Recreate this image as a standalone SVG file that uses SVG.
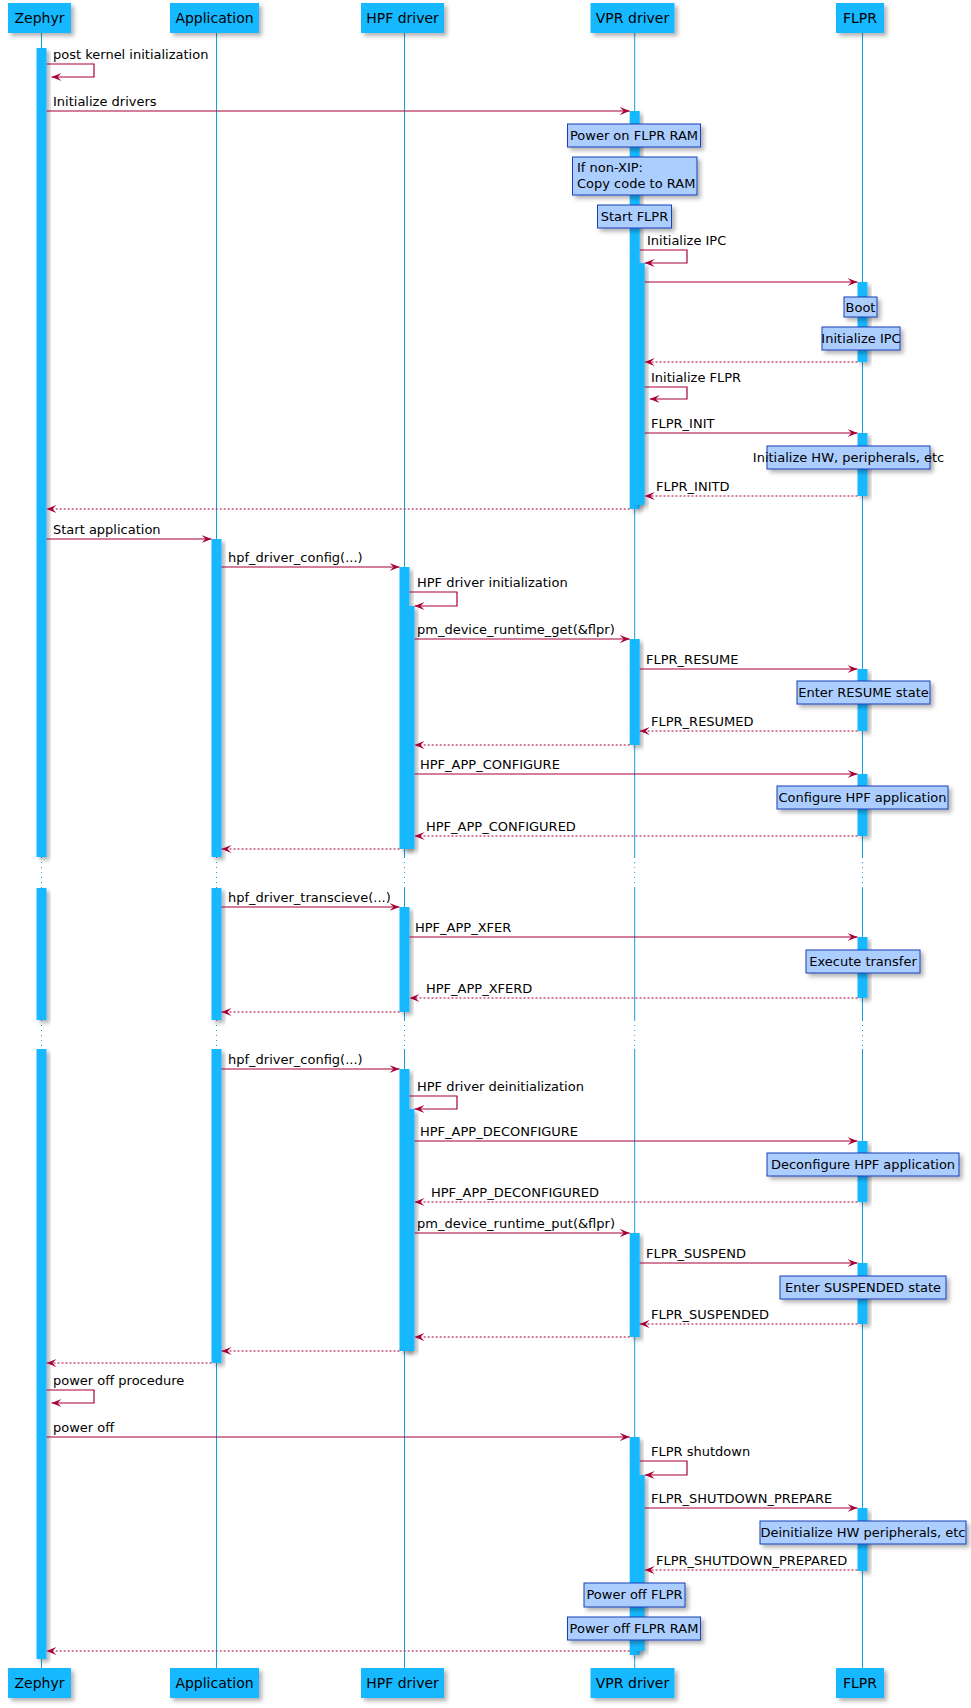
<svg xmlns="http://www.w3.org/2000/svg" width="971" height="1708" viewBox="0 0 971 1708">
<style>
text{font-family:"DejaVu Sans","Liberation Sans",sans-serif;font-size:13px;fill:#000}
.h text,text.h{font-size:14px;text-anchor:middle}
.p{fill:#14B8FF;filter:url(#sh)}
.ll{stroke:#14A0E0;stroke-width:1}
.ld{stroke:#14A0E0;stroke-width:1;stroke-dasharray:1,4}
.act{fill:#14B8FF;filter:url(#sh)}
.m{stroke:#A80036;stroke-width:1.2;fill:none;marker-end:url(#a)}
.r{stroke:#A80036;stroke-width:1.2;fill:none;stroke-dasharray:2,2;marker-end:url(#a)}
.n rect{fill:#ABCEFF;stroke:#1A3FB8;stroke-width:1;filter:url(#sh)}
.n text{text-anchor:middle}
</style>
<defs>
<filter id="sh" x="-20%" y="-20%" width="160%" height="160%"><feDropShadow dx="3" dy="3" stdDeviation="2" flood-color="#000" flood-opacity="0.3"/></filter>
<marker id="a" markerWidth="12" markerHeight="10" refX="10" refY="5" orient="auto" markerUnits="userSpaceOnUse"><path d="M0,1 L10,5 L0,9 L4,5 Z" fill="#A80036"/></marker>
</defs>
<g id="lifelines">
<path class="ll" d="M41.5,33V857M41.5,888V1020M41.5,1049V1668M216.5,33V857M216.5,888V1020M216.5,1049V1668M404.5,33V857M404.5,888V1020M404.5,1049V1668M634.7,33V857M634.7,888V1020M634.7,1049V1668M862.5,33V857M862.5,888V1020M862.5,1049V1668"/>
<path class="ld" d="M41.5,857V888M41.5,1020V1049M216.5,857V888M216.5,1020V1049M404.5,857V888M404.5,1020V1049M634.7,857V888M634.7,1020V1049M862.5,857V888M862.5,1020V1049"/>
</g>
<g id="participants" class="h">
<g id="zephyr"><rect class="p" x="8" y="3" width="63" height="30"/><text x="39.5" y="23">Zephyr</text><rect class="p" x="8" y="1668" width="63" height="30"/><text x="39.5" y="1688">Zephyr</text></g>
<g id="application"><rect class="p" x="170" y="3" width="89" height="30"/><text x="214.5" y="23">Application</text><rect class="p" x="170" y="1668" width="89" height="30"/><text x="214.5" y="1688">Application</text></g>
<g id="hpf"><rect class="p" x="361" y="3" width="83" height="30"/><text x="402.5" y="23">HPF driver</text><rect class="p" x="361" y="1668" width="83" height="30"/><text x="402.5" y="1688">HPF driver</text></g>
<g id="vpr"><rect class="p" x="590.5" y="3" width="84" height="30"/><text x="632.5" y="23">VPR driver</text><rect class="p" x="590.5" y="1668" width="84" height="30"/><text x="632.5" y="1688">VPR driver</text></g>
<g id="flpr"><rect class="p" x="836" y="3" width="48" height="30"/><text x="860" y="23">FLPR</text><rect class="p" x="836" y="1668" width="48" height="30"/><text x="860" y="1688">FLPR</text></g>
</g>
<g id="activations">
<rect class="act" x="36.5" y="48" width="10" height="809"/>
<rect class="act" x="36.5" y="888" width="10" height="132"/>
<rect class="act" x="36.5" y="1049" width="10" height="610"/>
<rect class="act" x="211.5" y="539" width="10" height="318"/>
<rect class="act" x="211.5" y="888" width="10" height="132"/>
<rect class="act" x="211.5" y="1049" width="10" height="314"/>
<rect class="act" x="399.5" y="567" width="10" height="282"/>
<rect class="act" x="404.5" y="606" width="10" height="243"/>
<rect class="act" x="399.5" y="907" width="10" height="105"/>
<rect class="act" x="399.5" y="1069" width="10" height="282"/>
<rect class="act" x="404.5" y="1109" width="10" height="242"/>
<rect class="act" x="629.7" y="111" width="10" height="398"/>
<rect class="act" x="634.7" y="263" width="10" height="242"/>
<rect class="act" x="629.7" y="639" width="10" height="106"/>
<rect class="act" x="629.7" y="1233" width="10" height="104"/>
<rect class="act" x="629.7" y="1437" width="10" height="218"/>
<rect class="act" x="634.7" y="1475" width="10" height="176"/>
<rect class="act" x="857.5" y="282" width="10" height="80"/>
<rect class="act" x="857.5" y="433" width="10" height="63"/>
<rect class="act" x="857.5" y="669" width="10" height="62"/>
<rect class="act" x="857.5" y="774" width="10" height="62"/>
<rect class="act" x="857.5" y="937" width="10" height="61"/>
<rect class="act" x="857.5" y="1141" width="10" height="61"/>
<rect class="act" x="857.5" y="1263" width="10" height="61"/>
<rect class="act" x="857.5" y="1508" width="10" height="63"/>
</g>
<g id="connectors">
<path class="m" d="M46.5,64H94V77H51.5"/><text x="53" y="59">post kernel initialization</text>
<path class="m" d="M46.5,111H629.7"/><text x="53" y="106">Initialize drivers</text>
<path class="m" d="M639.7,250H687V263H644.7"/><text x="647" y="245">Initialize IPC</text>
<path class="m" d="M644.7,282H857.5"/>
<path class="r" d="M857.5,362H644.7"/>
<path class="m" d="M644.7,387H687V399H649.7"/><text x="651" y="382">Initialize FLPR</text>
<path class="m" d="M644.7,433H857.5"/><text x="651" y="428">FLPR_INIT</text>
<path class="r" d="M857.5,496H644.7"/><text x="656" y="491">FLPR_INITD</text>
<path class="r" d="M629.7,509H46.5"/>
<path class="m" d="M46.5,539H211.5"/><text x="53" y="534">Start application</text>
<path class="m" d="M221.5,567H399.5"/><text x="228" y="562">hpf_driver_config(...)</text>
<path class="m" d="M409.5,592H457V606H414.5"/><text x="417" y="587">HPF driver initialization</text>
<path class="m" d="M414.5,639H629.7"/><text x="417" y="634">pm_device_runtime_get(&amp;flpr)</text>
<path class="m" d="M639.7,669H857.5"/><text x="646" y="664">FLPR_RESUME</text>
<path class="r" d="M857.5,731H639.7"/><text x="651" y="726">FLPR_RESUMED</text>
<path class="r" d="M629.7,745H414.5"/>
<path class="m" d="M414.5,774H857.5"/><text x="420" y="769">HPF_APP_CONFIGURE</text>
<path class="r" d="M857.5,836H414.5"/><text x="426" y="831">HPF_APP_CONFIGURED</text>
<path class="r" d="M399.5,849H221.5"/>
<path class="m" d="M221.5,907H399.5"/><text x="228" y="902">hpf_driver_transcieve(...)</text>
<path class="m" d="M409.5,937H857.5"/><text x="415" y="932">HPF_APP_XFER</text>
<path class="r" d="M857.5,998H409.5"/><text x="426" y="993">HPF_APP_XFERD</text>
<path class="r" d="M399.5,1012H221.5"/>
<path class="m" d="M221.5,1069H399.5"/><text x="228" y="1064">hpf_driver_config(...)</text>
<path class="m" d="M409.5,1096H457V1109H414.5"/><text x="417" y="1091">HPF driver deinitialization</text>
<path class="m" d="M414.5,1141H857.5"/><text x="420" y="1136">HPF_APP_DECONFIGURE</text>
<path class="r" d="M857.5,1202H414.5"/><text x="431" y="1197">HPF_APP_DECONFIGURED</text>
<path class="m" d="M414.5,1233H629.7"/><text x="417" y="1228">pm_device_runtime_put(&amp;flpr)</text>
<path class="m" d="M639.7,1263H857.5"/><text x="646" y="1258">FLPR_SUSPEND</text>
<path class="r" d="M857.5,1324H639.7"/><text x="651" y="1319">FLPR_SUSPENDED</text>
<path class="r" d="M629.7,1337H414.5"/>
<path class="r" d="M399.5,1351H221.5"/>
<path class="r" d="M211.5,1363H46.5"/>
<path class="m" d="M46.5,1390H94V1403H51.5"/><text x="53" y="1385">power off procedure</text>
<path class="m" d="M46.5,1437H629.7"/><text x="53" y="1432">power off</text>
<path class="m" d="M639.7,1461H687V1475H644.7"/><text x="651" y="1456">FLPR shutdown</text>
<path class="m" d="M644.7,1508H857.5"/><text x="651" y="1503">FLPR_SHUTDOWN_PREPARE</text>
<path class="r" d="M857.5,1570H644.7"/><text x="656" y="1565">FLPR_SHUTDOWN_PREPARED</text>
<path class="r" d="M629.7,1651H46.5"/>
</g>
<g id="notes" class="n">
<g id="n1"><rect x="567.5" y="124" width="133" height="23"/><text x="634" y="140">Power on FLPR RAM</text></g>
<g id="n2"><rect x="572.5" y="157" width="124.5" height="38"/><text x="577" y="172" style="text-anchor:start">If non-XIP:</text><text x="577" y="188" style="text-anchor:start">Copy code to RAM</text></g>
<g id="n3"><rect x="597.5" y="205" width="74" height="23"/><text x="634.5" y="221">Start FLPR</text></g>
<g id="n4"><rect x="844" y="297" width="33" height="20"/><text x="860.5" y="312">Boot</text></g>
<g id="n5"><rect x="822" y="327" width="78" height="23"/><text x="861" y="343">Initialize IPC</text></g>
<g id="n6"><rect x="767" y="446" width="163" height="23"/><text x="848.5" y="462">Initialize HW, peripherals, etc</text></g>
<g id="n7"><rect x="797" y="681" width="133" height="23"/><text x="863.5" y="697">Enter RESUME state</text></g>
<g id="n8"><rect x="777" y="786" width="171" height="23"/><text x="862.5" y="802">Configure HPF application</text></g>
<g id="n9"><rect x="806" y="950" width="114" height="23"/><text x="863" y="966">Execute transfer</text></g>
<g id="n10"><rect x="767" y="1153" width="192" height="23"/><text x="863" y="1169">Deconfigure HPF application</text></g>
<g id="n11"><rect x="780" y="1276" width="166" height="23"/><text x="863" y="1292">Enter SUSPENDED state</text></g>
<g id="n12"><rect x="760" y="1521" width="206" height="23"/><text x="863" y="1537">Deinitialize HW peripherals, etc</text></g>
<g id="n13"><rect x="584" y="1583" width="101" height="24"/><text x="634.5" y="1599">Power off FLPR</text></g>
<g id="n14"><rect x="567.5" y="1617" width="133" height="23"/><text x="634" y="1633">Power off FLPR RAM</text></g>
</g>
</svg>
